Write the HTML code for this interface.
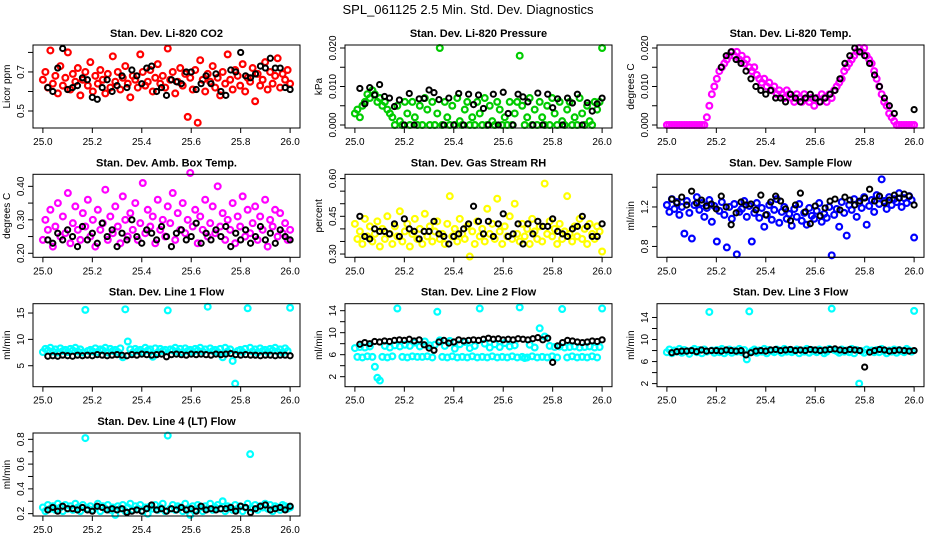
<!DOCTYPE html>
<html><head><meta charset="utf-8">
<style>
html,body{margin:0;padding:0;background:#fff;}
svg{display:block;font-family:"Liberation Sans",sans-serif;}
</style></head>
<body>
<svg id="chart" width="936" height="540" viewBox="0 0 936 540">
<rect x="0" y="0" width="936" height="540" fill="#fff"/>
<text x="468" y="14" text-anchor="middle" font-size="13">SPL_061125  2.5 Min. Std. Dev. Diagnostics</text>
</svg>
<script>
const xTicks=[25.0,25.2,25.4,25.6,25.8,26.0];
const xTickLabels=["25.0","25.2","25.4","25.6","25.8","26.0"];

const co2Color=[.66,.70,.62,.81,.64,.68,.59,.73,.63,.67,.80,.61,.69,.65,.72,.58,.66,.70,.63,.75,.60,.68,.64,.71,.66,.59,.69,.62,.78,.65,.70,.61,.67,.73,.64,.57,.68,.66,.62,.79,.70,.63,.65,.71,.60,.67,.74,.64,.68,.62,.82,.66,.70,.59,.65,.72,.63,.69,.47,.67,.61,.71,.44,.76,.66,.60,.69,.65,.73,.62,.67,.58,.70,.64,.79,.66,.61,.71,.68,.63,.74,.60,.67,.65,.72,.55,.69,.63,.66,.75,.61,.70,.64,.68,.77,.62,.69,.66,.71,.64];
const co2Black=[.62,.60,.72,.82,.61,.62,.63,.67,.66,.57,.56,.62,.66,.60,.63,.68,.62,.71,.68,.64,.72,.73,.60,.62,.58,.66,.65,.64,.70,.70,.61,.64,.68,.64,.69,.60,.58,.71,.70,.80,.68,.67,.69,.73,.72,.77,.72,.72,.62,.61];

const presColor=[.003,.004,.002,.005,.006,.008,.007,.009,.008,.006,.007,.005,.006,.004,.003,.002,.000,.005,.001,.000,.006,.003,.000,.006,.002,.000,.005,.000,.007,.004,.000,.006,.000,.003,.020,.000,.006,.002,.000,.005,.000,.007,.001,.000,.004,.006,.000,.002,.000,.006,.003,.000,.007,.000,.005,.001,.000,.006,.004,.000,.002,.000,.006,.000,.003,.006,.018,.005,.000,.002,.007,.000,.004,.000,.006,.002,.000,.005,.000,.007,.003,.000,.006,.001,.000,.004,.006,.000,.002,.000,.007,.003,.000,.005,.001,.000,.006,.004,.006,.020];
const presBlack=[.0095,.0055,.0097,.0078,.0105,.0074,.0070,.0048,.0065,.0000,.0082,.0000,.0068,.0069,.0091,.0084,.0066,.0000,.0070,.0000,.0082,.0000,.0080,.0053,.0078,.0043,.0000,.0080,.0000,.0085,.0030,.0000,.0080,.0073,.0060,.0000,.0083,.0000,.0080,.0045,.0068,.0000,.0070,.0057,.0080,.0000,.0058,.0036,.0055,.0070];

const tempColor=[0,0,0,0,0,0,0,0,0,0,0,0,0,0,0,0,.002,.005,.008,.010,.012,.014,.015,.016,.017,.018,.019,.018,.019,.017,.018,.016,.017,.015,.014,.015,.013,.012,.011,.012,.010,.011,.009,.010,.008,.009,.008,.007,.009,.008,.007,.006,.008,.007,.006,.008,.007,.006,.007,.005,.007,.006,.008,.007,.006,.008,.007,.009,.010,.011,.012,.014,.015,.016,.017,.018,.019,.020,.019,.020,.018,.017,.016,.014,.012,.010,.008,.006,.005,.003,.002,.001,0,0,0,0,0,0,0,0];
const tempBlack=[null,null,null,null,null,null,null,null,null,null,.015,.018,.019,.017,.016,.014,.012,.010,.009,.008,.009,.007,.007,.006,.008,.007,.006,.007,.008,.007,.006,.007,.008,.009,.012,.016,.018,.020,.019,.018,.016,.013,.010,.007,.005,.003,null,null,null,.004];

const ambColor=[.24,.30,.27,.33,.22,.28,.35,.25,.31,.26,.38,.23,.29,.34,.27,.24,.32,.28,.36,.25,.30,.22,.33,.27,.29,.39,.24,.31,.26,.34,.28,.23,.37,.30,.25,.32,.27,.35,.24,.29,.41,.26,.33,.28,.31,.23,.36,.27,.30,.25,.34,.29,.38,.24,.32,.27,.35,.26,.30,.44,.28,.33,.23,.31,.27,.36,.25,.29,.34,.26,.40,.28,.32,.24,.30,.27,.35,.23,.31,.28,.37,.25,.33,.26,.29,.34,.24,.31,.27,.36,.22,.30,.28,.33,.25,.32,.26,.29,.24,.27];
const ambBlack=[.24,.23,.26,.24,.27,.25,.22,.28,.24,.26,.23,.29,.25,.27,.22,.26,.24,.30,.25,.23,.27,.26,.24,.28,.25,.22,.26,.27,.24,.25,.29,.23,.26,.24,.27,.25,.28,.22,.26,.24,.27,.23,.25,.28,.24,.26,.23,.27,.25,.24];

const rhColor=[.42,.36,.39,.34,.44,.37,.41,.35,.38,.43,.33,.40,.36,.45,.38,.34,.41,.37,.47,.35,.39,.42,.33,.38,.44,.36,.40,.34,.46,.37,.41,.35,.39,.43,.36,.38,.34,.42,.53,.37,.40,.35,.44,.38,.36,.41,.29,.39,.34,.43,.37,.40,.35,.48,.38,.42,.36,.52,.39,.34,.41,.37,.45,.36,.50,.38,.35,.42,.37,.40,.34,.44,.39,.36,.41,.35,.58,.38,.43,.37,.40,.34,.42,.36,.39,.53,.38,.35,.41,.37,.44,.36,.40,.34,.42,.38,.36,.41,.39,.31];
const rhBlack=[.45,.37,.36,.40,.39,.39,.38,.42,.37,.44,.40,.39,.36,.39,.39,.43,.38,.37,.34,.37,.38,.40,.42,.49,.43,.38,.43,.37,.42,.46,.37,.38,.42,.34,.42,.38,.43,.41,.41,.44,.39,.38,.37,.40,.41,.45,.41,.37,.37,.42];

const flowColor=[1.22,1.15,1.28,1.18,1.25,1.12,1.20,0.93,1.26,1.14,0.88,1.22,1.30,1.17,1.24,1.10,1.19,1.27,1.05,1.21,0.85,1.16,1.25,1.12,0.79,1.20,1.08,1.23,0.72,1.15,1.18,1.26,1.10,1.21,0.85,1.14,1.24,1.09,1.19,1.00,1.12,1.22,1.07,1.17,1.28,1.04,1.15,1.20,1.08,1.13,1.01,1.18,1.10,1.23,1.06,1.14,1.02,1.19,1.11,1.08,1.16,1.24,1.05,1.13,1.09,1.20,0.71,1.12,1.18,1.00,1.25,1.14,0.91,1.22,1.17,1.28,1.10,1.24,1.19,1.30,1.02,1.21,1.27,1.15,1.32,1.23,1.48,1.26,1.18,1.30,1.22,1.28,1.25,1.34,1.20,1.29,1.24,1.31,1.27,0.89];
const flowBlack=[1.28,1.24,1.30,1.22,1.36,1.24,1.27,1.21,1.23,1.18,1.31,1.20,1.02,1.14,1.25,1.22,1.23,1.17,1.32,1.12,1.25,1.31,1.26,1.18,1.06,1.22,1.34,1.15,1.03,1.21,1.11,1.19,1.26,1.28,1.17,1.30,1.27,1.22,1.26,1.29,1.38,1.26,1.31,1.24,1.27,1.32,1.29,1.33,1.31,1.22];

const line1Color=[7.6,8.2,7.9,8.4,7.7,8.1,7.5,8.3,7.8,8.0,7.6,8.2,7.9,8.4,7.7,8.1,7.5,15.6,7.8,8.0,7.7,8.3,7.6,8.1,7.9,8.4,7.5,8.2,7.8,8.0,7.6,8.3,6.6,15.7,9.6,8.1,7.5,8.2,7.8,8.0,7.6,8.4,7.9,8.1,6.7,8.3,7.5,8.2,7.8,8.0,15.5,8.1,7.9,8.4,7.7,8.2,7.5,8.3,7.8,8.0,7.6,8.2,7.9,8.4,7.7,8.1,16.2,8.3,7.8,8.0,7.6,8.2,6.6,8.4,7.7,8.1,5.9,1.6,7.8,8.0,7.6,8.2,15.9,8.4,7.7,8.1,7.5,8.3,7.8,8.0,7.6,8.2,7.9,8.4,7.7,8.1,7.5,8.3,7.8,16.0];
const line1Black=[6.8,6.9,6.8,7.0,6.9,6.8,7.0,6.9,7.0,6.9,7.1,7.0,6.9,7.0,7.1,7.0,6.9,7.1,7.0,7.2,7.1,7.0,7.1,7.2,6.7,7.1,7.2,7.1,7.0,7.2,7.1,7.2,7.1,7.0,7.2,7.1,7.2,7.3,7.1,7.0,7.1,7.0,7.0,6.9,7.0,7.0,6.9,7.0,7.0,6.9];

const line2Color=[7.2,5.6,7.4,5.5,7.3,5.7,7.5,5.6,3.8,1.8,1.3,5.6,7.6,5.5,7.3,5.7,7.7,14.4,7.5,5.6,7.8,5.5,7.6,5.7,8.2,5.6,7.5,5.6,8.4,5.7,7.7,5.5,7.8,13.8,8.6,5.6,7.6,5.5,8.5,5.7,7.1,5.5,7.9,5.6,8.3,5.5,7.2,5.7,7.6,5.5,14.4,5.6,8.0,5.5,7.3,5.7,7.9,5.5,7.4,5.6,8.1,5.5,7.5,5.7,7.7,5.5,14.6,5.6,5.4,5.5,7.8,5.7,7.3,5.5,10.8,5.6,9.3,5.5,7.6,5.7,7.4,5.5,7.5,14.3,7.3,5.5,7.4,5.7,7.5,5.5,7.3,5.6,7.4,5.5,7.5,5.7,7.3,5.5,7.4,14.4];
const line2Black=[7.9,8.2,8.0,8.4,8.3,8.5,8.4,8.6,8.7,8.6,8.8,8.5,8.7,7.8,7.2,6.8,8.3,8.6,8.1,8.3,8.7,8.5,8.6,8.7,8.6,8.8,9.0,8.8,8.9,8.7,8.8,8.7,8.9,8.8,8.7,8.9,9.1,8.7,9.0,4.6,7.6,8.2,8.6,8.5,8.3,8.2,8.3,8.5,8.4,8.7];

const line3Color=[7.7,8.2,7.5,8.0,7.8,8.3,7.6,8.1,7.9,7.4,8.0,8.3,7.7,8.1,7.5,8.2,7.8,15.0,8.0,7.6,8.1,7.7,8.3,7.5,7.9,8.2,7.6,8.0,7.8,8.3,7.7,8.1,6.4,15.1,7.9,8.2,7.6,8.0,7.8,8.3,7.5,8.1,7.9,7.7,8.2,8.0,7.6,8.3,7.8,8.1,7.7,7.9,8.2,7.5,8.0,7.8,8.3,7.6,8.1,7.9,7.7,8.2,8.0,7.5,7.8,8.3,15.6,8.1,7.9,7.6,8.2,7.8,8.0,7.7,8.3,7.5,8.1,2.0,7.9,7.6,8.2,7.8,8.0,7.7,8.1,7.7,8.3,7.9,7.5,8.0,7.8,8.2,7.6,8.1,7.9,7.7,8.3,8.0,7.8,15.2];
const line3Black=[7.6,7.8,7.9,7.9,8.0,7.8,8.1,7.9,8.0,8.0,7.9,8.1,8.0,7.9,8.0,7.2,7.6,7.9,8.0,7.9,8.1,8.2,8.0,8.1,8.2,8.0,8.1,8.0,8.2,8.1,8.0,8.1,8.2,8.3,8.1,8.0,8.2,8.1,8.0,5.0,7.7,8.0,8.2,8.1,7.9,8.0,8.1,8.0,7.9,8.0];

const line4Color=[.25,.22,.27,.24,.26,.23,.28,.25,.22,.27,.24,.26,.23,.28,.25,.22,.27,.81,.24,.26,.23,.25,.28,.22,.26,.24,.27,.23,.25,.19,.26,.24,.27,.22,.25,.28,.23,.26,.24,.27,.22,.25,.20,.26,.24,.27,.23,.25,.28,.22,.83,.24,.27,.23,.26,.25,.22,.28,.24,.19,.26,.23,.27,.25,.22,.26,.24,.28,.23,.25,.27,.24,.30,.22,.26,.25,.23,.27,.24,.26,.22,.25,.28,.68,.24,.27,.23,.26,.25,.28,.24,.27,.22,.26,.25,.23,.27,.26,.24,.25];
const line4Black=[.23,.25,.22,.26,.24,.24,.23,.25,.23,.22,.26,.25,.23,.24,.23,.24,.21,.22,.23,.22,.24,.27,.23,.24,.22,.24,.23,.25,.23,.24,.22,.26,.23,.24,.23,.24,.24,.25,.22,.26,.25,.21,.24,.26,.27,.23,.24,.25,.23,.26];

const panelTitles=["Stan. Dev. Li-820 CO2","Stan. Dev. Li-820 Pressure","Stan. Dev. Li-820 Temp.","Stan. Dev. Amb. Box Temp.","Stan. Dev. Gas Stream RH","Stan. Dev. Sample Flow","Stan. Dev. Line 1 Flow","Stan. Dev. Line 2 Flow","Stan. Dev. Line 3 Flow","Stan. Dev. Line 4 (LT) Flow"];
const yTitles=["Licor ppm","kPa","degrees C","degrees C","percent","ml/min","ml/min","ml/min","ml/min","ml/min"];
const yTicksAll=[[.5,.6,.7,.8],[0,.005,.01,.015,.02],[0,.005,.01,.015,.02],[.2,.25,.3,.35,.4],[.3,.35,.4,.45,.5,.55,.6],[.8,1.0,1.2,1.4],[5,10,15],[2,4,6,8,10,12,14],[2,4,6,8,10,12,14],[.2,.3,.4,.5,.6,.7,.8]];
const yTickLabelsAll=[["0.5","","0.7",""],["0.000","","0.010","","0.020"],["0.000","","0.010","","0.020"],["0.20","","0.30","","0.40"],["0.30","","","0.45","","","0.60"],["0.8","","1.2",""],["5","10","15"],["2","","6","","10","","14"],["2","","6","","10","","14"],["0.2","","0.4","","0.6","","0.8"]];
const yRanges=[[.413,.838],[-.00078,.02078],[-.00078,.02078],[.188,.436],[.287,.617],[.69,1.531],[1.02,16.77],[.18,15.27],[1.44,16.5],[.181,.851]];
const colorSeries=[co2Color,presColor,tempColor,ambColor,rhColor,flowColor,line1Color,line2Color,line3Color,line4Color];
const blackSeries=[co2Black,presBlack,tempBlack,ambBlack,rhBlack,flowBlack,line1Black,line2Black,line3Black,line4Black];
const seriesColors=["#ff0000","#00cc00","#ff00ff","#ff00ff","#ffff00","#0000ff","#00ffff","#00ffff","#00ffff","#00ffff"];
const panelKeys=["co2","pressure","licor-temp","amb-box-temp","gas-stream-rh","sample-flow","line1-flow","line2-flow","line3-flow","line4-flow"];

const NS="http://www.w3.org/2000/svg";
const svg=document.getElementById('chart');
const colL=[33,345,657], rowT=[45,174.3,303.7,433], BW=267, BH=83;
function mk(tag,attrs,parent){const e=document.createElementNS(NS,tag);for(const k in attrs)e.setAttribute(k,attrs[k]);parent.appendChild(e);return e;}

panelTitles.forEach((title,p)=>{
  const L=colL[p%3], T=rowT[Math.floor(p/3)];
  const g=mk('g',{},svg);
  
  
  const [y0,y1]=yRanges[p];
  const xs=v=>L+BW*((v-24.96)/1.08);
  const ys=v=>T+BH-BH*(v-y0)/(y1-y0);
  const t=mk('text',{x:L+BW/2,y:T-8,'text-anchor':'middle','font-size':11,'font-weight':'bold'},g);
  t.textContent=title;
  
  
  const cg=mk('g',{fill:'none',stroke:seriesColors[p],'stroke-width':2.2},g);
  
  
  const cs=colorSeries[p];
  cs.forEach((v,i)=>{ if(v===null)return;
    const c=mk('circle',{cx:xs(25+i/(cs.length-1)),cy:ys(v),r:2.9},cg);
    
    
  });
  const bg=mk('g',{fill:'none',stroke:'#000','stroke-width':2},g);
  
  
  const bs=blackSeries[p];
  bs.forEach((v,i)=>{ if(v===null)return;
    const c=mk('circle',{cx:xs(25.02+0.98*i/(bs.length-1)),cy:ys(v),r:2.6},bg);
    
    
  });
  const box=mk('rect',{x:L,y:T,width:BW,height:BH,fill:'none',stroke:'#000','stroke-width':1},g);
  
  
  const xa=mk('g',{},g);
  
  
  mk('line',{x1:xs(xTicks[0]),x2:xs(xTicks[xTicks.length-1]),y1:T+BH,y2:T+BH,stroke:'#000'},xa);
  xTicks.forEach((v,i)=>{
    mk('line',{x1:xs(v),x2:xs(v),y1:T+BH,y2:T+BH+5,stroke:'#000'},xa);
    const tl=mk('text',{x:xs(v),y:T+BH+17,'text-anchor':'middle','font-size':10},xa);
    tl.textContent=xTickLabels[i];
  });
  const ya=mk('g',{},g);
  
  
  const yt=yTicksAll[p], yl=yTickLabelsAll[p];
  mk('line',{x1:L,x2:L,y1:ys(yt[0]),y2:ys(yt[yt.length-1]),stroke:'#000'},ya);
  yt.forEach((v,i)=>{
    mk('line',{x1:L-5,x2:L,y1:ys(v),y2:ys(v),stroke:'#000'},ya);
    if(yl[i]){const tl=mk('text',{x:L-9,y:ys(v),'text-anchor':'middle','font-size':10,transform:`rotate(-90 ${L-9} ${ys(v)})`},ya);tl.textContent=yl[i];}
  });
  const yTitle=mk('text',{x:L-23,y:T+BH/2,'text-anchor':'middle','font-size':10,transform:`rotate(-90 ${L-23} ${T+BH/2})`},g);
  yTitle.textContent=yTitles[p];
  
  
});
</script>
</body></html>
